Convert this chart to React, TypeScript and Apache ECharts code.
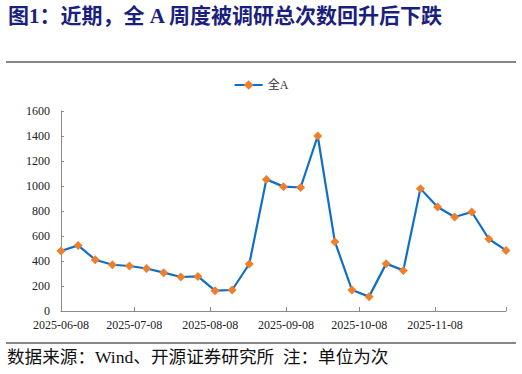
import React, { useEffect, useRef } from "react";
import * as echarts from "echarts";

const dates = [
  "2025-06-08", "2025-06-15", "2025-06-22", "2025-06-29", "2025-07-06", "2025-07-13",
  "2025-07-20", "2025-07-27", "2025-08-03", "2025-08-10", "2025-08-17", "2025-08-24",
  "2025-08-31", "2025-09-07", "2025-09-14", "2025-09-21", "2025-09-28", "2025-10-05",
  "2025-10-12", "2025-10-19", "2025-10-26", "2025-11-02", "2025-11-09", "2025-11-16",
  "2025-11-23", "2025-11-30", "2025-12-07",
];
const values = [
  480, 525, 410, 370, 360, 340, 307, 272, 277, 163, 168, 376, 1053, 995,
  988, 1400, 555, 168, 115, 379, 325, 979, 832, 752, 792, 576, 485,
];
const tickDates = ["2025-06-08", "2025-07-08", "2025-08-08", "2025-09-08", "2025-10-08", "2025-11-08"];
const axisEnd = "2025-12-07";
const seriesName = "全A";
const titleText = "图1：近期，全 A 周度被调研总次数回升后下跌";
const footerText = "数据来源：Wind、开源证券研究所  注：单位为次";

const ts = (d: string) => Date.UTC(+d.slice(0, 4), +d.slice(5, 7) - 1, +d.slice(8, 10));
const fmt = (v: number) => {
  const d = new Date(v);
  const p = (n: number) => (n < 10 ? "0" + n : "" + n);
  return `${d.getUTCFullYear()}-${p(d.getUTCMonth() + 1)}-${p(d.getUTCDate())}`;
};

const serif = "'Liberation Serif', 'Noto Sans CJK SC', serif";

export default function App() {
  const ref = useRef<HTMLDivElement>(null);
  useEffect(() => {
    if (!ref.current) return;
    const chart = echarts.init(ref.current, undefined, { renderer: "svg" });
    const tickVals = tickDates.map(ts);
    chart.setOption({
      animation: false,
      backgroundColor: "#fff",
      textStyle: { fontFamily: serif },
      legend: {
        top: 74,
        left: "center",
        itemWidth: 28,
        itemHeight: 12,
        textStyle: { fontFamily: serif, fontSize: 12, color: "#333" },
        data: [seriesName],
      },
      grid: { left: 61, right: 16, top: 111, bottom: 63 },
      xAxis: {
        type: "value",
        min: ts(dates[0]),
        max: ts(axisEnd),
        splitLine: { show: false },
        axisLine: { lineStyle: { color: "#8c8c8c", width: 1 } },
        axisTick: { show: true, inside: true, length: 4, lineStyle: { color: "#8c8c8c" }, customValues: [...tickVals, ts(axisEnd)] },
        axisLabel: {
          customValues: tickVals,
          formatter: (v: number) => fmt(v),
          fontFamily: serif,
          fontSize: 12,
          color: "#222",
          margin: 8,
        },
      },
      yAxis: {
        type: "value",
        min: 0,
        max: 1600,
        interval: 200,
        splitLine: { show: false },
        axisLine: { show: true, lineStyle: { color: "#8c8c8c", width: 1 } },
        axisTick: { show: true, inside: true, length: 3, lineStyle: { color: "#8c8c8c" } },
        axisLabel: { fontFamily: serif, fontSize: 12, color: "#222", margin: 11, formatter: (v: number) => String(v) },
      },
      series: [
        {
          name: seriesName,
          type: "line",
          data: dates.map((d, i) => [ts(d), values[i]]),
          symbol: "diamond",
          symbolSize: 9,
          lineStyle: { color: "#0F6FC6", width: 2.2 },
          itemStyle: { color: "#F07F2C", borderWidth: 0 },
          color: "#0F6FC6",
        },
      ],
      graphic: [
        {
          type: "text",
          left: 8,
          top: 5,
          style: { text: titleText, fontFamily: serif, fontWeight: "bold", fontSize: 21, fill: "#1B1F7E" },
        },
        { type: "line", shape: { x1: 6, y1: 62, x2: 516, y2: 62 }, style: { stroke: "#111", lineWidth: 1.2 } },
        { type: "line", shape: { x1: 6, y1: 343, x2: 516, y2: 343 }, style: { stroke: "#111", lineWidth: 1.2 } },
        {
          type: "text",
          left: 7,
          top: 348,
          style: { text: footerText, fontFamily: serif, fontSize: 17.6, fill: "#111" },
        },
      ],
    });
    return () => chart.dispose();
  }, []);
  return <div ref={ref} style={{ width: 522, height: 374, position: "fixed", left: 0, top: 0 }} />;
}
